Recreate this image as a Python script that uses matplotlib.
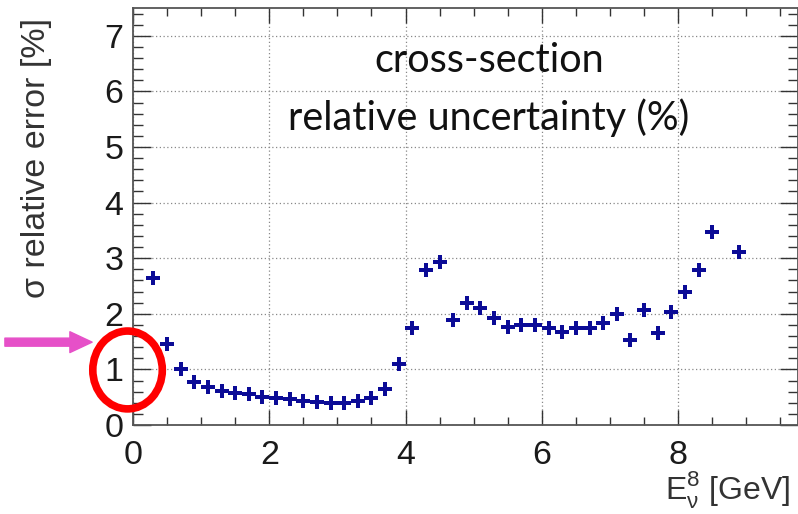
import matplotlib
matplotlib.use('Agg')
import matplotlib.pyplot as plt
import matplotlib.ticker as ticker
from matplotlib.patches import Ellipse

# neutrino energy bin centres [GeV] and cross-section relative error [%]
energy = [0.3, 0.5, 0.7, 0.9, 1.1, 1.3, 1.5, 1.7, 1.9, 2.1,
          2.3, 2.5, 2.7, 2.9, 3.1, 3.3, 3.5, 3.7, 3.9, 4.1,
          4.3, 4.5, 4.7, 4.9, 5.1, 5.3, 5.5, 5.7, 5.9, 6.1,
          6.3, 6.5, 6.7, 6.9, 7.1, 7.3, 7.5, 7.7, 7.9, 8.1,
          8.3, 8.5, 8.9]
rel_err = [2.65, 1.45, 1.00, 0.77, 0.69, 0.62, 0.57, 0.55, 0.51, 0.48,
           0.46, 0.43, 0.42, 0.40, 0.40, 0.44, 0.49, 0.65, 1.10, 1.75,
           2.78, 2.93, 1.89, 2.20, 2.11, 1.93, 1.77, 1.80, 1.80, 1.75,
           1.68, 1.75, 1.75, 1.83, 2.00, 1.53, 2.06, 1.65, 2.03, 2.39,
           2.78, 3.48, 3.11]

font = ['Liberation Sans', 'DejaVu Sans']

fig = plt.figure(figsize=(7.98, 5.14), dpi=100)
ax = fig.add_axes([133 / 798, 89 / 514, 665 / 798, 417 / 514])

ax.plot(energy, rel_err, linestyle='none', marker='P', markersize=10,
        color='#0b0b96', markeredgewidth=0, zorder=3)

ax.set_xlim(0, 9.76)
ax.set_ylim(0, 7.5)

ax.xaxis.set_major_locator(ticker.MultipleLocator(2))
ax.xaxis.set_minor_locator(ticker.MultipleLocator(0.5))
ax.yaxis.set_major_locator(ticker.MultipleLocator(1))
ax.yaxis.set_minor_locator(ticker.MultipleLocator(0.2))

ax.tick_params(which='both', direction='in', top=True, right=True, color='#333333', width=1)
ax.tick_params(axis='y', which='major', length=13, pad=7)
ax.tick_params(axis='y', which='minor', length=7)
ax.tick_params(axis='x', which='major', length=11, pad=11)
ax.tick_params(axis='x', which='minor', length=5.5)
for lab in ax.get_xticklabels() + ax.get_yticklabels():
    lab.set_fontfamily(font)
    lab.set_fontsize(24.5)
    lab.set_color('#1a1a1a')

for sp in ax.spines.values():
    sp.set_color('#555555')
    sp.set_linewidth(1.3)

ax.grid(True, which='major', color='#888888', linestyle=(0, (1, 2)), linewidth=0.9)
ax.set_axisbelow(True)

ax.set_ylabel('σ relative error [%]', fontsize=24.5, family=font, color='#333333', loc='top')
ax.yaxis.set_label_coords(-0.122, 0.976)
ax.set_xlabel(r'E$_{\mathregular{ν}}^{\mathregular{8}}$ [GeV]', fontsize=23, family=font,
              color='#333333', loc='right')
ax.xaxis.set_label_coords(0.988, -0.106)

ax.text(0.535, 0.8465, 'cross-section', transform=ax.transAxes, ha='center',
        va='baseline', fontsize=28.5, family=['Lato', 'DejaVu Sans'], color='#111111')
ax.text(0.535, 0.7074, 'relative uncertainty (%)', transform=ax.transAxes, ha='center',
        va='baseline', fontsize=28.5, family=['Lato', 'DejaVu Sans'], color='#111111')

# annotation: red circle round the 1% level and magenta arrow
ax.add_patch(Ellipse((-0.08, 0.99), 1.02, 1.40, fill=False, edgecolor='#ff0000',
                     linewidth=5.5, clip_on=False, zorder=5))
ax.annotate('', xy=(-0.60, 1.49), xytext=(-1.88, 1.49), annotation_clip=False,
            arrowprops=dict(arrowstyle='simple,head_width=15,head_length=16,tail_width=5.8',
                            mutation_scale=1, color='#e650c8', shrinkA=0, shrinkB=0))

fig.savefig('out.png', dpi=100)
